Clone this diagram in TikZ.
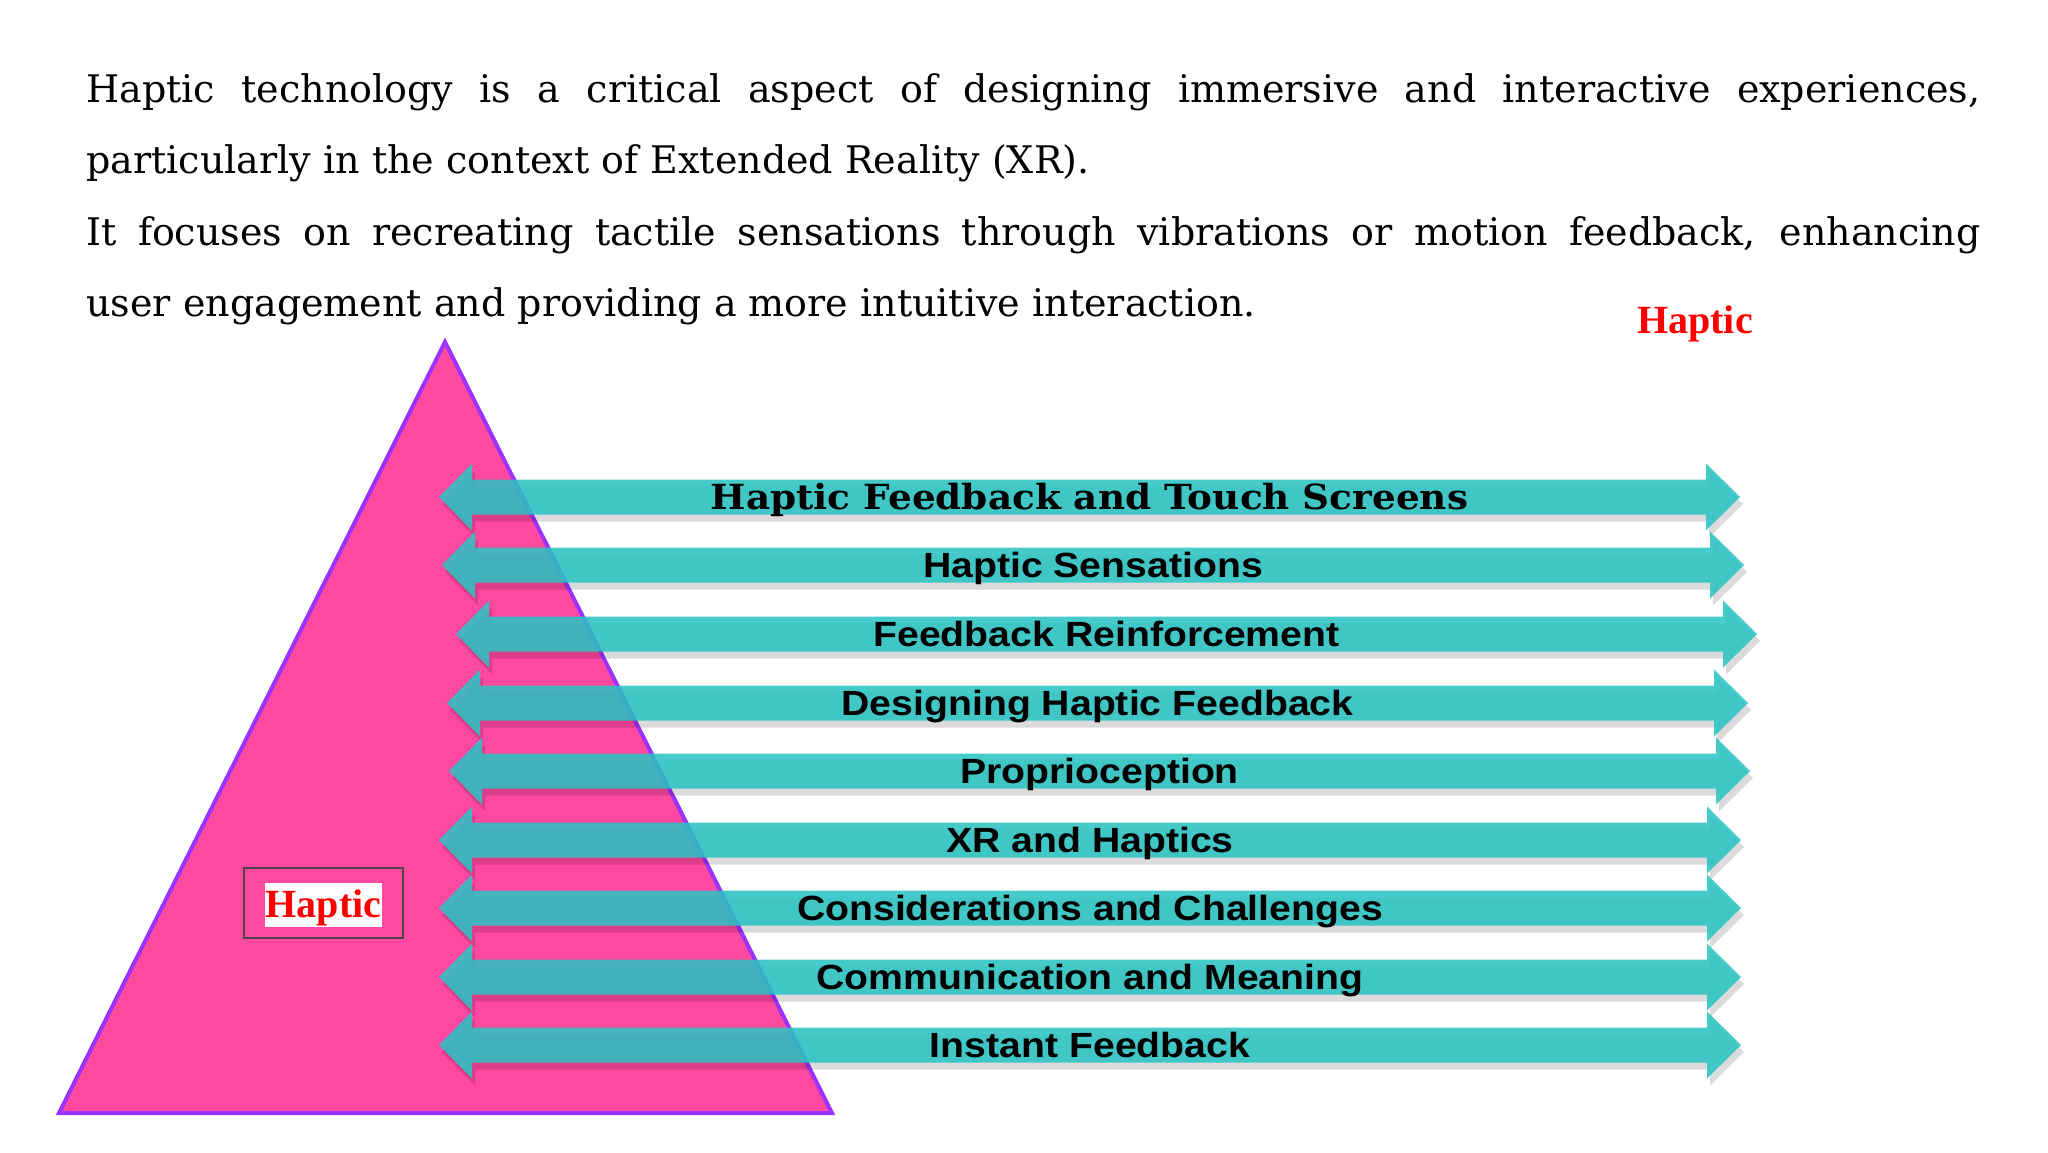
\documentclass[tikz,border=0pt]{standalone}
\usepackage{fontspec}
\usepackage{graphicx}
\setmainfont{DejaVu Serif}
\newfontfamily\labsans{Liberation Sans}
\newfontfamily\labserif{DejaVu Serif}
\newfontfamily\redserif{Liberation Serif}
\usetikzlibrary{shadows}
\definecolor{pinkfill}{RGB}{255,72,160}
\definecolor{purpleedge}{RGB}{155,50,255}
\definecolor{arrowteal}{RGB}{43,195,195}
\definecolor{boxgray}{RGB}{80,70,70}
\begin{document}
\begin{tikzpicture}[x=0.5pt,y=-0.5pt,
  arrowshape/.style={fill=arrowteal, fill opacity=0.87, draw=none,
    drop shadow={shadow xshift=1.5pt, shadow yshift=-3.5pt, opacity=0.14, fill=black}},
  sanslabel/.style={anchor=base, inner sep=0pt, text=black,
    font={\labsans\bfseries\fontsize{17.5pt}{20pt}\selectfont}},
  seriflabel/.style={anchor=base, inner sep=0pt, text=black,
    font={\labserif\bfseries\fontsize{17.3pt}{20pt}\selectfont}},
  redlabel/.style={text=red, font={\redserif\bfseries\fontsize{20pt}{24pt}\selectfont}}
]
\fill[white] (0,0) rectangle (2048,1152);
\useasboundingbox (0,0) rectangle (2048,1152);

% paragraph
\node[anchor=base west, inner sep=0pt] (para) at (86,102) {%
  \begin{minipage}[t]{947pt}\setlength{\parindent}{0pt}%
  \fontsize{19pt}{35.8pt}\selectfont
  Haptic technology is a critical aspect of designing immersive and interactive experiences,\linebreak
  particularly in the context of Extended Reality (XR).\par
  It focuses on recreating tactile sensations through vibrations or motion feedback, enhancing\linebreak
  user engagement and providing a more intuitive interaction.\par
  \end{minipage}};

% title
\node[redlabel, anchor=base, inner sep=0pt] (title) at (1695,333) {Haptic};

% triangle
\coordinate (apex) at (445,342);
\coordinate (bl) at (59,1113);
\coordinate (br) at (832,1113);
\draw[fill=pinkfill, draw=purpleedge, line width=2pt] (apex) -- (br) -- (bl) -- cycle;

% boxed label
\node[draw=boxgray, line width=1pt, minimum width=79.5pt, minimum height=35pt, inner sep=0pt] (hbox) at (323.5,903) {};
\node[redlabel, fill=white, anchor=base, inner xsep=0.5pt, inner ysep=0pt, text height=17pt, text depth=5pt] (hlabel) at (323.5,917) {Haptic};

% arrows
\foreach \c/\l/\r in {497/439/1740, 565/442/1744, 634/456/1757, 703/447/1748, 771/449/1750, 840/439/1741, 908/439/1741, 977/439/1741, 1045/439/1741}{
  \path[arrowshape] (\l,\c) -- (\l+33,\c-33.5) -- (\l+33,\c-17.5) -- (\r-34,\c-17.5) -- (\r-34,\c-33.5)
     -- (\r,\c) -- (\r-34,\c+33.5) -- (\r-34,\c+17.5) -- (\l+33,\c+17.5) -- (\l+33,\c+33.5) -- cycle;
}

% labels
\node[seriflabel] (lab1) at (1089.5,509.5) {\scalebox{1.08}[1]{Haptic Feedback and Touch Screens}};
\node[sanslabel] (lab2) at (1093,577.5) {\scalebox{1.12}[1]{Haptic Sensations}};
\node[sanslabel] (lab3) at (1106.5,646.5) {\scalebox{1.12}[1]{Feedback Reinforcement}};
\node[sanslabel] (lab4) at (1097.5,715.5) {\scalebox{1.12}[1]{Designing Haptic Feedback}};
\node[sanslabel] (lab5) at (1099.5,783.5) {\scalebox{1.12}[1]{Proprioception}};
\node[sanslabel] (lab6) at (1090,852.5) {\scalebox{1.12}[1]{XR and Haptics}};
\node[sanslabel] (lab7) at (1090,920.5) {\scalebox{1.12}[1]{Considerations and Challenges}};
\node[sanslabel] (lab8) at (1090,989.5) {\scalebox{1.12}[1]{Communication and Meaning}};
\node[sanslabel] (lab9) at (1090,1057.5) {\scalebox{1.12}[1]{Instant Feedback}};
\end{tikzpicture}
\end{document}
